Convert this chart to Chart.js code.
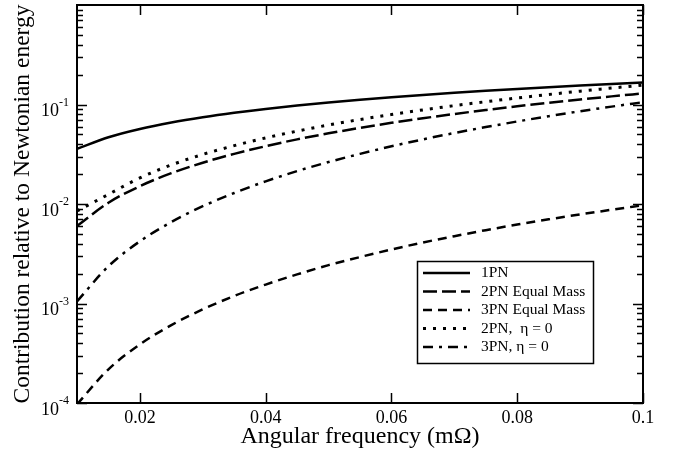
<!DOCTYPE html>
<html lang="en">
<head>
    <meta charset="UTF-8">
    <title>PN contributions</title>
    <script src="https://cdn.jsdelivr.net/npm/chart.js"></script>
    <style>
        html, body { margin: 0; padding: 0; background: #fff; }
        .chart-container { position: relative; width: 680px; height: 455px; }
    </style>
</head>
<body>
    <div class="chart-container">
        <canvas id="pnChart" width="680" height="455"></canvas>
    </div>

    <script>
        // angular frequency (m Omega)
        const freq = [0.01, 0.015, 0.02, 0.025, 0.03, 0.035, 0.04, 0.045, 0.05, 0.055,
                      0.06, 0.065, 0.07, 0.075, 0.08, 0.085, 0.09, 0.095, 0.1];

        // contribution relative to Newtonian energy
        const pn1 = [0.0358, 0.0469, 0.0568, 0.0659, 0.0744, 0.0825, 0.0902, 0.0975, 0.1046, 0.1115,
                     0.1181, 0.1246, 0.1309, 0.1371, 0.1431, 0.1490, 0.1548, 0.1605, 0.1661];
        const pn2Equal = [0.0060, 0.0103, 0.0151, 0.0204, 0.0260, 0.0319, 0.0381, 0.0446, 0.0513, 0.0582,
                          0.0654, 0.0727, 0.0803, 0.0880, 0.0960, 0.1040, 0.1123, 0.1207, 0.1292];
        const pn3Equal = [0.000097, 0.000218, 0.000388, 0.000606, 0.000873, 0.00119, 0.00155, 0.00196, 0.00243, 0.00293,
                          0.00349, 0.00410, 0.00475, 0.00546, 0.00621, 0.00701, 0.00786, 0.00875, 0.0097];
        const pn2Eta0 = [0.0085, 0.0125, 0.0183, 0.0247, 0.0315, 0.0386, 0.0462, 0.0540, 0.0622, 0.0706,
                         0.0793, 0.0882, 0.0974, 0.1067, 0.1163, 0.1261, 0.1361, 0.1463, 0.1566];
        const pn3Eta0 = [0.00105, 0.00237, 0.00422, 0.00659, 0.00950, 0.0129, 0.0169, 0.0214, 0.0264, 0.0319,
                         0.0380, 0.0446, 0.0517, 0.0593, 0.0675, 0.0762, 0.0855, 0.0952, 0.1055];

        const xTicks = [0.02, 0.04, 0.06, 0.08, 0.1];
        const xTickLabels = ['0.02', '0.04', '0.06', '0.08', '0.1'];
        const yDecades = [1e-4, 1e-3, 1e-2, 1e-1, 1];
        const yExponents = ['-4', '-3', '-2', '-1', '0'];

        const serif = '"Liberation Serif", "Times New Roman", serif';

        const series = [
            { label: '1PN', data: pn1, dash: [], width: 2.5 },
            { label: '2PN Equal Mass', data: pn2Equal, dash: [14, 5], width: 2.5 },
            { label: '3PN Equal Mass', data: pn3Equal, dash: [9, 6], width: 2.5 },
            { label: '2PN,  \u03b7 = 0', data: pn2Eta0, dash: [3, 7], width: 3 },
            { label: '3PN, \u03b7 = 0', data: pn3Eta0, dash: [10, 6, 3, 6], width: 2.5 }
        ];

        // frame, inward ticks, tick labels, titles and boxed legend
        const framePlugin = {
            id: 'frame',
            afterDraw(chart) {
                const ctx = chart.ctx;
                const a = chart.chartArea;
                const xs = chart.scales.x;
                const ys = chart.scales.y;
                ctx.save();
                ctx.strokeStyle = '#000';
                ctx.fillStyle = '#000';
                ctx.setLineDash([]);

                ctx.lineWidth = 2;
                ctx.strokeRect(a.left, a.top, a.right - a.left, a.bottom - a.top);

                ctx.lineWidth = 1.5;
                ctx.beginPath();
                xTicks.forEach(v => {
                    const px = Math.round(xs.getPixelForValue(v)) + 0.5;
                    ctx.moveTo(px, a.bottom); ctx.lineTo(px, a.bottom - 10);
                    ctx.moveTo(px, a.top); ctx.lineTo(px, a.top + 10);
                });
                for (let d = 0; d < 4; d++) {
                    for (let m = 1; m <= 9; m++) {
                        const v = yDecades[d] * m;
                        const py = Math.round(ys.getPixelForValue(v)) + 0.5;
                        const len = m === 1 ? 10 : 6;
                        ctx.moveTo(a.left, py); ctx.lineTo(a.left + len, py);
                        ctx.moveTo(a.right, py); ctx.lineTo(a.right - len, py);
                    }
                }
                ctx.stroke();

                // x tick labels
                ctx.font = '18px ' + serif;
                ctx.textAlign = 'center';
                ctx.textBaseline = 'middle';
                xTicks.forEach((v, i) => {
                    ctx.fillText(xTickLabels[i], xs.getPixelForValue(v), a.bottom + 15);
                });

                // y tick labels with superscript exponents
                for (let d = 0; d < 4; d++) {
                    const py = ys.getPixelForValue(yDecades[d]);
                    ctx.font = '12px ' + serif;
                    ctx.textAlign = 'right';
                    const ew = ctx.measureText(yExponents[d]).width;
                    ctx.fillText(yExponents[d], 69, py - 2);
                    ctx.font = '18px ' + serif;
                    ctx.fillText('10', 69 - ew, py + 7);
                }

                // axis titles
                ctx.font = '24px ' + serif;
                ctx.textAlign = 'center';
                ctx.fillText('Angular frequency (m\u03a9)', (a.left + a.right) / 2, 437);
                ctx.save();
                ctx.translate(23, 204);
                ctx.rotate(-Math.PI / 2);
                ctx.font = '23.5px ' + serif;
                ctx.fillText('Contribution relative to Newtonian energy', 0, 0);
                ctx.restore();

                // legend
                ctx.lineWidth = 1.5;
                ctx.strokeRect(417.5, 261.5, 176, 102);
                ctx.font = '15.5px ' + serif;
                ctx.textAlign = 'left';
                series.forEach((s, i) => {
                    const ly = 273 + i * 18.5;
                    ctx.lineWidth = s.width;
                    ctx.setLineDash(s.dash);
                    ctx.beginPath();
                    ctx.moveTo(423, ly);
                    ctx.lineTo(470, ly);
                    ctx.stroke();
                    ctx.setLineDash([]);
                    ctx.fillText(s.label, 481, ly);
                });
                ctx.restore();
            }
        };

        new Chart(document.getElementById('pnChart'), {
            type: 'line',
            data: {
                labels: freq,
                datasets: series.map(s => ({
                    label: s.label,
                    data: freq.map((f, i) => ({ x: f, y: s.data[i] })),
                    borderColor: '#000',
                    borderWidth: s.width,
                    borderDash: s.dash,
                    pointRadius: 0,
                    cubicInterpolationMode: 'monotone',
                    fill: false
                }))
            },
            options: {
                responsive: false,
                animation: false,
                devicePixelRatio: 1,
                layout: { padding: { top: 5, right: 37, left: 0, bottom: 0 } },
                plugins: {
                    legend: { display: false },
                    tooltip: { enabled: false }
                },
                scales: {
                    x: {
                        type: 'linear',
                        min: 0.01,
                        max: 0.1,
                        ticks: { display: false },
                        grid: { display: false },
                        border: { display: false },
                        afterFit: s => { s.height = 52; }
                    },
                    y: {
                        type: 'logarithmic',
                        min: 1e-4,
                        max: 1,
                        ticks: { display: false },
                        grid: { display: false },
                        border: { display: false },
                        afterFit: s => { s.width = 77; }
                    }
                }
            },
            plugins: [framePlugin]
        });
    </script>
</body>
</html>
